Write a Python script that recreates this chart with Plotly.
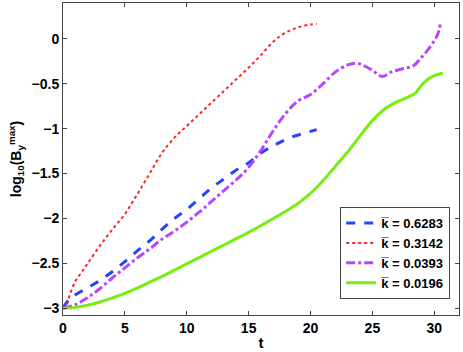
import plotly.graph_objects as go

# k = 0.6283 (blue dashed)
t_blue = [0, 0.5, 1, 2, 3, 4, 5, 6, 7, 8, 9, 10, 11, 12, 13, 14, 15, 16, 17, 18, 19, 20, 20.5]
v_blue = [-3.0, -2.9, -2.85, -2.77, -2.69, -2.59, -2.48, -2.36, -2.25, -2.12, -2.0, -1.9, -1.78,
          -1.66, -1.56, -1.46, -1.38, -1.27, -1.19, -1.12, -1.07, -1.03, -1.01]

# k = 0.3142 (red dotted)
t_red = [0, 0.3, 0.5, 1, 1.5, 2, 3, 4, 5, 6, 7, 8, 9, 10, 11, 12, 13, 14, 15, 16, 17, 18, 19, 20, 20.5]
v_red = [-3.0, -2.96, -2.87, -2.70, -2.60, -2.50, -2.30, -2.12, -1.95, -1.73, -1.50, -1.27, -1.10,
         -0.97, -0.84, -0.71, -0.58, -0.45, -0.32, -0.18, -0.03, 0.07, 0.13, 0.16, 0.17]

# k = 0.0393 (purple dash-dot)
t_purple = [0, 1, 2, 3, 4, 5, 6, 7, 8, 9, 10, 11, 12, 13, 14, 15, 16, 17, 18, 19, 20, 21, 22, 23,
            23.7, 24.5, 25.3, 25.8, 26.5, 27.5, 28.3, 29, 29.5, 30, 30.3, 30.5]
v_purple = [-3.0, -2.96, -2.88, -2.78, -2.66, -2.55, -2.44, -2.34, -2.23, -2.14, -2.04, -1.93,
            -1.81, -1.69, -1.57, -1.43, -1.24, -1.02, -0.83, -0.69, -0.62, -0.50, -0.37, -0.29,
            -0.27, -0.31, -0.38, -0.42, -0.37, -0.33, -0.30, -0.20, -0.12, -0.02, 0.06, 0.17]

# k = 0.0196 (green solid)
t_green = [0, 1, 2, 3, 4, 5, 6, 7, 8, 9, 10, 11, 12, 13, 14, 15, 16, 17, 18, 19, 20, 21, 22, 23,
           24, 25, 26, 27, 28, 28.5, 29, 29.5, 30, 30.7]
v_green = [-3.0, -2.99, -2.965, -2.93, -2.885, -2.835, -2.775, -2.71, -2.645, -2.575, -2.505,
           -2.435, -2.365, -2.295, -2.225, -2.155, -2.08, -2.00, -1.92, -1.83, -1.72, -1.58, -1.42,
           -1.26, -1.08, -0.91, -0.78, -0.70, -0.64, -0.60, -0.51, -0.45, -0.41, -0.38]

names = ["k\u0305 = 0.6283", "k\u0305 = 0.3142", "k\u0305 = 0.0393", "k\u0305 = 0.0196"]

fig = go.Figure()
fig.add_trace(go.Scatter(x=t_blue, y=v_blue, mode="lines", name=names[0],
                         line=dict(color="#2244ff", width=3, dash="dash", shape="spline")))
fig.add_trace(go.Scatter(x=t_red, y=v_red, mode="lines", name=names[1],
                         line=dict(color="#ff2222", width=2, dash="dot", shape="spline")))
fig.add_trace(go.Scatter(x=t_purple, y=v_purple, mode="lines", name=names[2],
                         line=dict(color="#bb44ff", width=3, dash="dashdot", shape="spline")))
fig.add_trace(go.Scatter(x=t_green, y=v_green, mode="lines", name=names[3],
                         line=dict(color="#77ee11", width=3, dash="solid", shape="spline")))

axis_common = dict(showline=True, linecolor="#444444", linewidth=1, mirror="ticks",
                   ticks="inside", ticklen=4, tickcolor="#444444", showgrid=False,
                   zeroline=False,
                   tickfont=dict(family="Liberation Sans", size=14, color="black", weight="bold"))

fig.update_layout(
    width=463, height=352,
    margin=dict(l=63, r=4, t=3, b=37),
    paper_bgcolor="white", plot_bgcolor="white",
    font=dict(family="Liberation Sans", color="black"),
    xaxis=dict(range=[0, 32], tickvals=[0, 5, 10, 15, 20, 25, 30],
               title=dict(text="<b>t</b>", font=dict(size=15), standoff=2), **axis_common),
    yaxis=dict(range=[-3.075, 0.4], tickvals=[-3, -2.5, -2, -1.5, -1, -0.5, 0],
               ticktext=["\u22123", "\u22122.5", "\u22122", "\u22121.5", "\u22121", "\u22120.5", "0"],
               title=dict(text="<b>log<sub>10</sub>(B<sub>y</sub><sup>max</sup>)</b>", font=dict(size=14),
                          standoff=6), **axis_common),
    legend=dict(x=0.7, y=0.051, xanchor="left", yanchor="bottom",
                bgcolor="white", bordercolor="#444444", borderwidth=1,
                font=dict(family="Liberation Sans", size=13, color="black", weight="bold"),
                tracegroupgap=0),
    showlegend=True,
)

fig.write_html("out.html", config={"displayModeBar": False},
               post_script="document.body.style.margin='0';document.body.style.padding='0';")
